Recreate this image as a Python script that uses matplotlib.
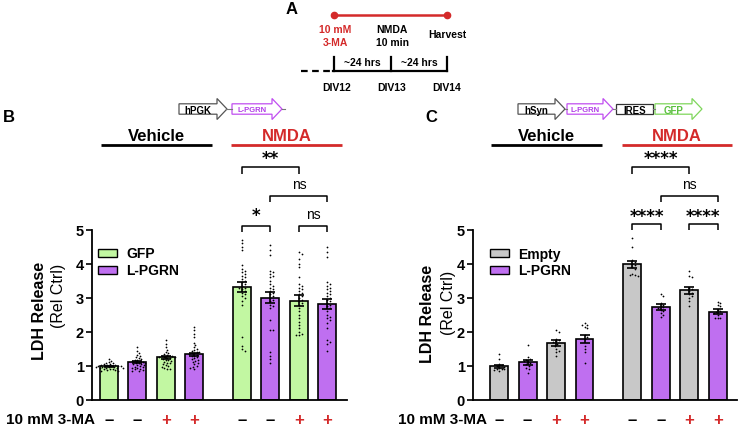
import matplotlib.pyplot as plt
from matplotlib.patches import Polygon, Rectangle
import numpy as np

plt.rcParams['font.family'] = ['Liberation Sans', 'DejaVu Sans']

green = '#c2f7a2'
purple = '#bf6ff0'
grey = '#c8c8c8'
red = '#d42a2a'

groups = ['Vehicle', 'NMDA']
ma_signs = ['–', '–', '+', '+', '–', '–', '+', '+']
x_pos = [0, 1, 2, 3, 4.68, 5.68, 6.68, 7.68]

# panel B: hPGK-L-PGRN vs GFP
b_series = ['GFP', 'L-PGRN']
b_means = [0.99, 1.11, 1.25, 1.34, 3.31, 3.00, 2.92, 2.82]
b_sems = [0.02, 0.03, 0.04, 0.05, 0.15, 0.16, 0.15, 0.15]
b_points = [
    [1.2, 1.15, 1.12, 1.1, 1.08, 1.06, 1.05, 1.04, 1.03, 1.02, 1.01, 1.0, 1.0, 1.0, 0.99,
     0.98, 0.98, 0.97, 0.96, 0.95, 0.95, 0.94, 0.93, 0.92, 0.9, 0.9, 0.88, 0.87, 0.86, 0.85],
    [1.55, 1.45, 1.38, 1.32, 1.28, 1.25, 1.22, 1.2, 1.18, 1.16, 1.15, 1.14, 1.12, 1.1, 1.1,
     1.08, 1.06, 1.05, 1.04, 1.02, 1.0, 0.98, 0.96, 0.95, 0.93, 0.92, 0.9, 0.88, 0.86, 0.85],
    [1.75, 1.65, 1.55, 1.48, 1.42, 1.38, 1.35, 1.32, 1.3, 1.3, 1.28, 1.27, 1.26, 1.25, 1.24,
     1.22, 1.2, 1.18, 1.16, 1.15, 1.12, 1.1, 1.08, 1.05, 1.02, 1.0, 0.98, 0.95, 0.92, 0.9],
    [2.15, 2.05, 1.95, 1.85, 1.68, 1.62, 1.55, 1.5, 1.47, 1.45, 1.42, 1.4, 1.38, 1.37, 1.35,
     1.33, 1.3, 1.28, 1.25, 1.22, 1.2, 1.18, 1.15, 1.12, 1.1, 1.05, 1.0, 0.98, 0.95, 0.9],
    [4.7, 4.6, 4.5, 4.4, 3.95, 3.85, 3.8, 3.75, 3.7, 3.65, 3.6, 3.55, 3.5, 3.45, 3.4,
     3.35, 3.3, 3.3, 3.25, 3.2, 3.15, 3.1, 3.05, 3.0, 2.9, 2.8, 1.85, 1.6, 1.5, 1.45],
    [4.55, 4.4, 4.27, 3.8, 3.75, 3.7, 3.65, 3.6, 3.5, 3.4, 3.35, 3.3, 3.25, 3.2, 3.15,
     3.1, 3.05, 3.0, 2.95, 2.9, 2.8, 2.75, 2.7, 2.35, 2.05, 2.05, 1.4, 1.3, 1.2, 1.1],
    [4.35, 4.3, 4.15, 4.0, 3.9, 3.6, 3.4, 3.35, 3.3, 3.25, 3.2, 3.15, 3.1, 3.05, 3.0,
     2.95, 2.9, 2.85, 2.8, 2.7, 2.6, 2.5, 2.4, 2.3, 2.2, 2.1, 2.0, 1.95, 1.9, 1.9],
    [4.5, 4.35, 4.2, 3.45, 3.4, 3.35, 3.3, 3.25, 3.2, 3.15, 3.1, 3.05, 3.0, 2.95, 2.9,
     2.85, 2.8, 2.75, 2.7, 2.6, 2.5, 2.45, 2.4, 2.35, 2.25, 2.1, 1.75, 1.7, 1.65, 1.45],
]

# panel C: hSyn-L-PGRN-IRES-GFP vs Empty
c_series = ['Empty', 'L-PGRN']
c_means = [0.99, 1.11, 1.68, 1.80, 3.98, 2.73, 3.22, 2.59]
c_sems = [0.05, 0.07, 0.08, 0.12, 0.11, 0.09, 0.10, 0.07]
c_points = [
    [1.35, 1.2, 1.05, 1.02, 1.0, 0.98, 0.95, 0.92, 0.9, 0.9, 0.88, 0.85],
    [1.62, 1.25, 1.2, 1.18, 1.15, 1.12, 1.1, 1.05, 1.0, 0.95, 0.9, 0.8],
    [2.05, 2.0, 1.8, 1.75, 1.72, 1.7, 1.65, 1.6, 1.5, 1.45, 1.4, 1.3],
    [2.25, 2.2, 2.2, 2.15, 2.1, 1.9, 1.85, 1.8, 1.6, 1.5, 1.4, 1.1],
    [4.75, 4.5, 4.1, 4.05, 4.0, 3.95, 3.9, 3.85, 3.7, 3.68, 3.66, 3.65],
    [3.1, 3.05, 2.85, 2.8, 2.75, 2.72, 2.7, 2.65, 2.6, 2.55, 2.5, 2.45],
    [3.8, 3.65, 3.6, 3.3, 3.25, 3.2, 3.15, 3.1, 3.05, 3.0, 2.9, 2.75],
    [2.88, 2.85, 2.8, 2.75, 2.65, 2.6, 2.58, 2.55, 2.5, 2.4, 2.4, 2.4],
]


def swarm(vals, d=2.4, px_x=28.47, px_y=34.0):
    # simple beeswarm offsets in pixels -> data units
    placed = []
    offs = []
    cands = [0.0]
    for i in range(1, 30):
        cands += [i * d * 0.55, -i * d * 0.55]
    for v in vals:
        y = v * px_y
        for c in cands:
            if all((c - px) ** 2 + (y - py) ** 2 >= d * d for px, py in placed):
                break
        placed.append((c, y))
        offs.append(c / px_x)
    return offs


def bracket(ax, x1, x2, y, text, ty, h=0.2):
    ax.plot([x1, x1, x2, x2], [y - h, y, y, y - h], color='black', lw=1.1,
            clip_on=False, solid_capstyle='butt')
    if text == 'ns':
        ax.text((x1 + x2) / 2, ty, text, ha='center', va='center', fontsize=10,
                clip_on=False)
    else:
        ax.text((x1 + x2) / 2, ty, text, ha='center', va='center', fontsize=12,
                family='DejaVu Sans', fontweight='bold', clip_on=False)


def draw_panel(ax, means, sems, points, colors, xlim):
    for i in range(len(means)):
        ax.bar(x_pos[i], means[i], width=0.63, color=colors[i % 2],
               edgecolor='black', linewidth=1.2, zorder=2)
        offs = swarm(points[i])
        ax.scatter(np.array(offs) + x_pos[i], points[i], s=1.6, color='black',
                   linewidths=0, zorder=3)
    ax.errorbar(x_pos, means, yerr=sems, fmt='none', ecolor='black',
                elinewidth=1.2, capsize=3.6, capthick=1.2, zorder=4)
    ax.set_xlim(xlim)
    ax.set_ylim(0, 5)
    ax.set_xticks([])
    ax.set_yticks([0, 1, 2, 3, 4, 5])
    ax.tick_params(axis='y', length=4.5, width=1.2, pad=1.5, labelsize=10.5)
    for lbl in ax.get_yticklabels():
        lbl.set_fontweight('bold')
    for s in ['top', 'right']:
        ax.spines[s].set_visible(False)
    for s in ['left', 'bottom']:
        ax.spines[s].set_linewidth(1.3)
    # treatment row
    for i in range(len(x_pos)):
        ax.text(x_pos[i], -0.56, ma_signs[i], ha='center', va='center',
                fontsize=12, fontweight='bold',
                color=red if ma_signs[i] == '+' else 'black', clip_on=False)
    # group lines
    ax.plot([-0.27, 3.61], [7.5, 7.5], color='black', lw=2, clip_on=False,
            solid_capstyle='butt')
    ax.plot([4.3, 8.2], [7.5, 7.5], color=red, lw=2, clip_on=False,
            solid_capstyle='butt')
    ax.text(1.67, 7.76, groups[0], ha='center', va='center', fontsize=12,
            fontweight='bold', clip_on=False)
    ax.text(6.25, 7.76, groups[1], ha='center', va='center', fontsize=12,
            fontweight='bold', color=red, clip_on=False)


fig = plt.figure(figsize=(7.38, 4.27), dpi=100)
W, H = 738.0, 427.0
bottom = 1 - 401 / H
height = (401 - 230.7) / H
axB = fig.add_axes([92 / W, bottom, (347 - 92) / W, height])
axC = fig.add_axes([473 / W, bottom, (737 - 473) / W, height])

draw_panel(axB, b_means, b_sems, b_points, [green, purple], (-0.59, 8.37))
draw_panel(axC, c_means, c_sems, c_points, [grey, purple], (-0.92, 8.36))

# significance brackets
bracket(axB, x_pos[4], x_pos[5], 5.12, '*', 5.42)
bracket(axB, x_pos[6], x_pos[7], 5.12, 'ns', 5.47)
bracket(axB, x_pos[5], x_pos[7], 6.0, 'ns', 6.35)
bracket(axB, x_pos[4], x_pos[6], 6.85, '**', 7.1)
bracket(axC, x_pos[4], x_pos[5], 5.18, '****', 5.4)
bracket(axC, x_pos[6], x_pos[7], 5.18, '****', 5.4)
bracket(axC, x_pos[5], x_pos[7], 6.0, 'ns', 6.35)
bracket(axC, x_pos[4], x_pos[6], 6.85, '****', 7.1)

# overlay in pixel coordinates for text and schematic
ov = fig.add_axes([0, 0, 1, 1], zorder=10)
ov.set_xlim(0, W)
ov.set_ylim(H, 0)
ov.axis('off')
ov.patch.set_alpha(0)

# y labels
ov.text(39, 311, 'LDH Release', rotation=90, ha='center', va='center',
        fontsize=11.5, fontweight='bold')
ov.text(59, 296, '(Rel Ctrl)', rotation=90, ha='center', va='center',
        fontsize=11.5)
ov.text(427.5, 314, 'LDH Release', rotation=90, ha='center', va='center',
        fontsize=11.5, fontweight='bold')
ov.text(448, 303, '(Rel Ctrl)', rotation=90, ha='center', va='center',
        fontsize=11.5)

# treatment row labels
ov.text(95, 420, '10 mM 3-MA', ha='right', va='center', fontsize=11,
        fontweight='bold')
ov.text(487, 420, '10 mM 3-MA', ha='right', va='center', fontsize=11,
        fontweight='bold')

# legends
for x0, names, cols in [(98, b_series, [green, purple]), (490, c_series, [grey, purple])]:
    for k in range(2):
        y0 = 250 + 17 * k
        ov.add_patch(Rectangle((x0, y0), 19, 8, facecolor=cols[k],
                               edgecolor='black', lw=1))
        ov.text(x0 + 28, y0 + 4.5, names[k], ha='left', va='center',
                fontsize=10, fontweight='bold')

# panel letters
ov.text(292, 9, 'A', ha='center', va='center', fontsize=12, fontweight='bold')
ov.text(9, 118, 'B', ha='center', va='center', fontsize=12, fontweight='bold')
ov.text(431, 118, 'C', ha='center', va='center', fontsize=12, fontweight='bold')


def gene_arrow(x0, x1, label, ec, tc, fs, yc=110, head=10, bh=5.2, hh=10.5):
    pts = [(x0, yc - bh), (x1 - head, yc - bh), (x1 - head, yc - hh), (x1, yc),
           (x1 - head, yc + hh), (x1 - head, yc + bh), (x0, yc + bh)]
    ov.add_patch(Polygon(pts, closed=True, facecolor='white', edgecolor=ec, lw=0.9))
    ov.text((x0 + x1 - head) / 2, yc + 0.5, label, ha='center', va='center',
            fontsize=fs, fontweight='bold', color=tc)


# construct B
ov.plot([226, 232], [110, 110], color='#777777', lw=0.8)
ov.plot([282, 285], [110, 110], color='#777777', lw=0.8)
gene_arrow(179, 227, 'hPGK', '#555555', 'black', 7)
gene_arrow(232, 282, 'L-PGRN', '#c04ef0', '#b23ee8', 5.5)
# construct C
ov.plot([565, 567], [110, 110], color='#777777', lw=0.8)
ov.plot([613, 616], [110, 110], color='#777777', lw=0.8)
ov.plot([653, 655], [110, 110], color='#777777', lw=0.8)
gene_arrow(518, 565, 'hSyn', '#555555', 'black', 7)
gene_arrow(567, 613, 'L-PGRN', '#c04ef0', '#b23ee8', 5.5)
ov.add_patch(Rectangle((616, 104.8), 37, 10.4, facecolor='white',
                       edgecolor='#333333', lw=0.9))
ov.text(634.5, 110.5, 'IRES', ha='center', va='center', fontsize=7,
        fontweight='bold')
gene_arrow(655, 702, 'GFP', '#7fd65c', '#5cc040', 7)

# panel A timeline
ov.plot([334, 447], [16, 16], color=red, lw=1.8)
ov.plot([334, 447], [16, 16], 'o', color=red, markersize=4.5)
ov.text(335, 30, '10 mM', ha='center', va='center', fontsize=7.5,
        fontweight='bold', color=red)
ov.text(335, 43, '3-MA', ha='center', va='center', fontsize=7.5,
        fontweight='bold', color=red)
ov.text(392, 30, 'NMDA', ha='center', va='center', fontsize=7.5, fontweight='bold')
ov.text(392, 43, '10 min', ha='center', va='center', fontsize=7.5, fontweight='bold')
ov.text(447, 35, 'Harvest', ha='center', va='center', fontsize=7.5, fontweight='bold')
ov.plot([301, 333], [72, 72], color='black', lw=1.6, dashes=(3, 2))
ov.plot([333, 447], [72, 72], color='black', lw=1.6)
for xt in [333.5, 391, 446.5]:
    ov.plot([xt, xt], [58, 72], color='black', lw=1.6)
ov.text(362, 63, '~24 hrs', ha='center', va='center', fontsize=7.5, fontweight='bold')
ov.text(419, 63, '~24 hrs', ha='center', va='center', fontsize=7.5, fontweight='bold')
for xt, lbl in [(337, 'DIV12'), (392, 'DIV13'), (447, 'DIV14')]:
    ov.text(xt, 88, lbl, ha='center', va='center', fontsize=7.5, fontweight='bold')

fig.savefig('out.png', dpi=100)
